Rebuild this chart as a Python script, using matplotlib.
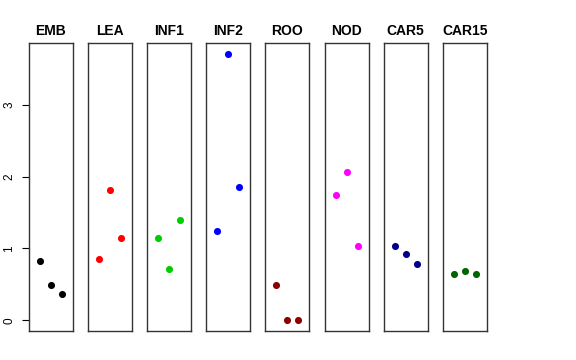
import numpy as np
import matplotlib.pyplot as plt

# Sample groups and their values (three replicates each)
groups = ['EMB', 'LEA', 'INF1', 'INF2', 'ROO', 'NOD', 'CAR5', 'CAR15']
emb = [0.83, 0.49, 0.36]
lea = [0.85, 1.81, 1.15]
inf1 = [1.15, 0.71, 1.40]
inf2 = [1.24, 3.71, 1.85]
roo = [0.49, 0.0, 0.0]
nod = [1.74, 2.07, 1.03]
car5 = [1.03, 0.92, 0.79]
car15 = [0.65, 0.69, 0.65]
values = [emb, lea, inf1, inf2, roo, nod, car5, car15]
colors = ['black', 'red', '#00CD00', 'blue', '#8B0000', 'magenta', '#00008B', '#006400']
yticks = [0, 1, 2, 3]

fig = plt.figure(figsize=(5.76, 3.6), dpi=100)
W, H = 576, 360

# Panel layout in pixels
left0 = 29
step = 59.1
pw = 44
top, bottom = 43, 331

ymax = max(max(v) for v in values)
pad = ymax * 0.04

for i, (name, vals, col) in enumerate(zip(groups, values, colors)):
    x0 = left0 + i * step
    ax = fig.add_axes([x0 / W, 1 - bottom / H, pw / W, (bottom - top) / H])
    ax.scatter([1, 2, 3], vals, color=col, s=26, zorder=3, linewidths=0)
    ax.set_xlim(0, 4)
    ax.set_ylim(-pad, ymax + pad)
    ax.set_xticks([])
    for sp in ax.spines.values():
        sp.set_color('#333333')
        sp.set_linewidth(1.0)
    ax.set_title(name, fontsize=10, fontweight='bold', family='Liberation Sans', pad=6)
    if i == 0:
        ax.set_yticks(yticks)
        ax.set_yticklabels([str(t) for t in yticks], rotation=90, va='center',
                           fontsize=8.5, family='Liberation Sans')
        ax.tick_params(axis='y', length=5, width=0.8, pad=5)
    else:
        ax.set_yticks([])

fig.savefig('out.png', dpi=100)
